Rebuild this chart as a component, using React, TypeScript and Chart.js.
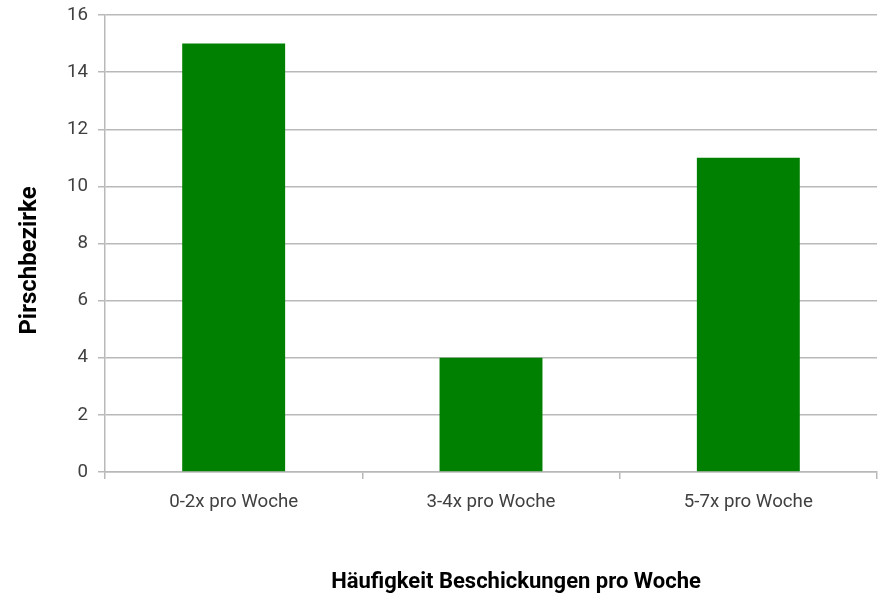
import React, { useEffect, useRef } from "react";
import { Chart, registerables } from "chart.js";

Chart.register(...registerables);

const categories: string[] = ["0-2x pro Woche", "3-4x pro Woche", "5-7x pro Woche"];
const values: number[] = [15, 4, 11];
const yTicks: number[] = [0, 2, 4, 6, 8, 10, 12, 14, 16];
const xTitle = "Häufigkeit Beschickungen pro Woche";
const yTitle = "Pirschbezirke";

const FONT = "Roboto, 'Open Sans', sans-serif";
const GRID = "#b9b9b9";

const titlePlugin = {
  id: "excelTitles",
  afterDraw(chart: any) {
    const { ctx, chartArea } = chart;
    ctx.save();
    ctx.fillStyle = "#000";
    ctx.textAlign = "center";
    ctx.textBaseline = "middle";
    ctx.font = `bold 22px ${FONT}`;
    const cx = (chartArea.left + chartArea.right) / 2 + 25;
    ctx.fillText(xTitle, cx, 582);
    ctx.font = `bold 24px ${FONT}`;
    ctx.translate(30, (chartArea.top + chartArea.bottom) / 2 + 17);
    ctx.rotate(-Math.PI / 2);
    ctx.fillText(yTitle, 0, 0);
    ctx.restore();
  },
};

export default function App() {
  const ref = useRef<HTMLCanvasElement | null>(null);
  useEffect(() => {
    if (!ref.current) return;
    const chart = new Chart(ref.current, {
      type: "bar",
      data: {
        labels: categories,
        datasets: [
          {
            data: values,
            backgroundColor: "#008000",
            borderWidth: 0,
            categoryPercentage: 1,
            barPercentage: 0.4,
          },
        ],
      },
      options: {
        responsive: false,
        animation: false,
        devicePixelRatio: 1,
        layout: { padding: { top: 15, right: 6, left: 0, bottom: 0 } },
        plugins: { legend: { display: false }, tooltip: { enabled: false }, title: { display: false } },
        scales: {
          x: {
            type: "category",
            offset: true,
            grid: { display: true, drawOnChartArea: false, drawTicks: true, tickLength: 7, color: GRID, lineWidth: 1.5, offset: true },
            border: { display: true, color: GRID, width: 1.5 },
            ticks: { font: { family: FONT, size: 18.7 }, color: "#404040", padding: 12, maxRotation: 0 },
            afterFit: (s: any) => { s.height = 123; s.paddingLeft = 0; s.paddingRight = 0; },
          },
          y: {
            min: 0,
            max: 16,
            afterBuildTicks: (s: any) => { s.ticks = yTicks.map((v) => ({ value: v })); },
            grid: { color: GRID, lineWidth: 1.5, tickLength: 7 },
            border: { display: true, color: GRID, width: 1.5 },
            ticks: { font: { family: FONT, size: 18.7 }, color: "#404040", padding: 10 },
            afterFit: (s: any) => { s.width = 105; s.paddingTop = 0; s.paddingBottom = 0; },
          },
        },
      },
      plugins: [titlePlugin],
    });
    return () => chart.destroy();
  }, []);
  return (
    <div style={{ position: "absolute", left: 0, top: 0, width: 883, height: 595, background: "#fff" }}>
      <canvas ref={ref} width={883} height={595} />
    </div>
  );
}
